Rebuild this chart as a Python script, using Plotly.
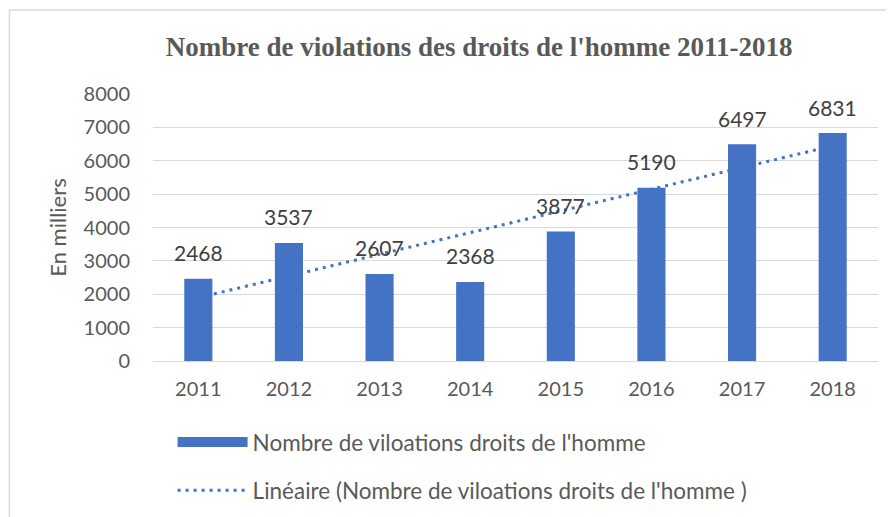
import numpy as np
import plotly.graph_objects as go

years = ["2011", "2012", "2013", "2014", "2015", "2016", "2017", "2018"]
violations = [2468, 3537, 2607, 2368, 3877, 5190, 6497, 6831]
title_text = "Nombre de violations des droits de l'homme 2011-2018"
bar_name = "Nombre de viloations droits de l'homme"
trend_name = "Linéaire (Nombre de viloations droits de l'homme )"
y_title = "En milliers"

BLUE = "#4472C4"
GREY = "#595959"
GRID = "#D9D9D9"
FONT = "Lato, Carlito, Calibri, sans-serif"

# linear trendline computed from the data (like Excel's)
xi = np.arange(1, len(violations) + 1)
slope, intercept = np.polyfit(xi, violations, 1)
trend = [float(t) for t in slope * xi + intercept]

fig = go.Figure()
fig.add_trace(go.Bar(
    x=years, y=violations, name=bar_name,
    marker=dict(color=BLUE, line=dict(width=0)),
    showlegend=False,
))
# legend-only entry giving the wide filled key that Excel draws for the bar series
fig.add_trace(go.Scatter(
    x=[None], y=[None], name=bar_name, mode="lines",
    line=dict(color=BLUE, width=15), legendgroup="a", showlegend=True,
    hoverinfo="skip",
))
fig.add_trace(go.Scatter(
    x=years, y=trend, name=trend_name, mode="lines",
    line=dict(color=BLUE, width=3, dash="3px,5px"),
    legendgroup="b",
))

for i, v in enumerate(violations):
    fig.add_annotation(x=i, y=v, text=str(v), showarrow=False,
                       yanchor="middle", yshift=26,
                       font=dict(family=FONT, size=21, color="#404040"))

# chart border
fig.add_shape(type="rect", xref="paper", yref="paper",
              x0=-0.198, x1=1.2, y0=-0.9, y1=1.3146,
              line=dict(color=GRID, width=1.5), fillcolor="rgba(0,0,0,0)",
              layer="below")

fig.update_layout(
    width=894, height=517,
    margin=dict(l=145, r=24, t=86, b=164, autoexpand=False),
    paper_bgcolor="white", plot_bgcolor="white",
    bargap=0.69,
    title=dict(text="<b>" + title_text + "</b>", x=0.527, xanchor="center",
               y=0.925, yanchor="middle", xref="container", yref="container",
               font=dict(family="Liberation Serif, Times New Roman, serif", size=27, color=GREY)),
    font=dict(family=FONT, size=20, color=GREY),
    showlegend=True,
    legend=dict(orientation="v", x=0.027, xanchor="left", y=-0.224, yanchor="top",
                font=dict(family=FONT, size=22.5, color=GREY), itemwidth=70,
                traceorder="grouped", tracegroupgap=16, bgcolor="rgba(0,0,0,0)"),
    xaxis=dict(type="category", range=[-0.5, len(years) - 0.5], showgrid=False, showline=False,
               ticks="", ticklabelstandoff=14,
               tickfont=dict(family=FONT, size=20, color=GREY)),
    yaxis=dict(range=[0, 8000], dtick=1000, showgrid=True, gridcolor=GRID, gridwidth=1.3,
               zeroline=True, zerolinecolor=GRID, zerolinewidth=1.3,
               showline=False, ticks="", ticklabelstandoff=22,
               tickfont=dict(family=FONT, size=20, color=GREY),
               title=dict(text=y_title, standoff=10,
                          font=dict(family=FONT, size=22, color=GREY))),
)

fig.write_html("out.html")
